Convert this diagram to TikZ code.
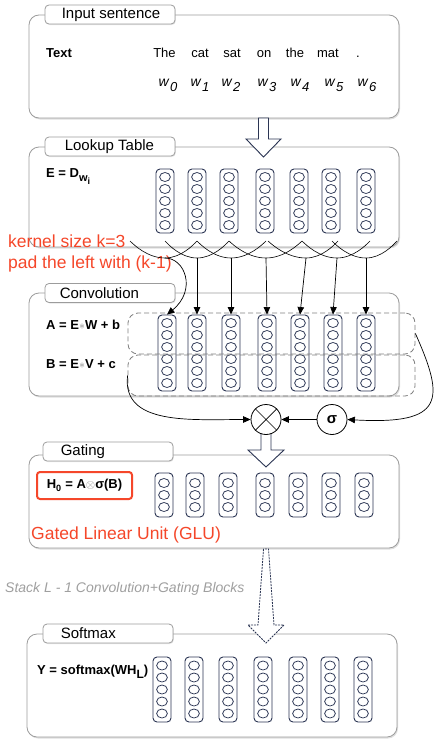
\documentclass[tikz,border=0pt]{standalone}
\usepackage{fontspec}
\setmainfont{Liberation Sans}
\usetikzlibrary{arrows.meta,shadows,calc}
\definecolor{navy}{HTML}{2B3553}
\definecolor{redtxt}{HTML}{F5472A}
\definecolor{panelgray}{HTML}{9C9C9C}
\newcommand\fsz[1]{\fontsize{#1pt}{#1pt}\selectfont}
\newcommand\vcol[5]{%
  \node[colbox, minimum height=#5pt] (#1) at (#2,#3) {};
  \foreach \k in {1,...,#4} \draw[cell] ($(#1.center)+(0,{(\k-(#4+1)/2)*12})$) ellipse (5.4pt and 4.5pt);
}
\begin{document}
\begin{tikzpicture}[x=1pt,y=-1pt,
  panel/.style={draw=panelgray, line width=0.8pt, rounded corners=10pt, fill=white,
    drop shadow={opacity=0.25, shadow xshift=1pt, shadow yshift=-1.5pt},
    minimum width=370pt, inner sep=0pt},
  tab/.style={draw=panelgray, line width=0.8pt, rounded corners=4pt, fill=white,
    minimum width=130pt, minimum height=19pt, inner sep=0pt,
    drop shadow={opacity=0.2, shadow xshift=0.8pt, shadow yshift=-1pt}},
  tablbl/.style={anchor=west, inner sep=0pt, font=\fsz{15}},
  colbox/.style={draw=navy, line width=0.9pt, rounded corners=4pt, minimum width=18pt, inner sep=0pt},
  cell/.style={draw=navy, line width=0.75pt},
  lbl/.style={inner sep=0pt, font=\fsz{13}},
  conn/.style={draw=black, line width=0.7pt, -{Triangle[length=7.5pt,width=6.5pt]}},
  arcline/.style={draw=black, line width=0.6pt},
  dbox/.style={draw=gray, dash pattern=on 5pt off 3pt, rounded corners=10pt, line width=0.8pt,
    minimum width=287pt, minimum height=41pt, inner sep=0pt},
  blockarrow/.style={draw=navy, fill=white, line width=0.9pt, line join=miter},
  redlbl/.style={anchor=west, inner sep=0pt, text=redtxt, font=\fsz{17.5}},
  opnode/.style={circle, draw=black, line width=0.8pt, fill=white, minimum size=30pt, inner sep=0pt}
]
\useasboundingbox (0,0) rectangle (442,744);

% panels
\node[panel, minimum height=103pt] (inp) at (214,66.5) {};
\node[panel, minimum height=100pt] (look) at (214,197) {};
\node[panel, minimum height=103pt] (conv) at (214,344.5) {};
\node[panel, minimum height=93pt] (gate) at (214,501.5) {};
\node[panel, minimum height=103pt] (soft) at (212,685.5) {};

% tabs
\node[tab] (inpT) at (110,14.5) {};
\node[tablbl] (inpL) at ([xshift=17pt]inpT.west) {Input sentence};
\node[tab] (lookT) at (110,146.5) {};
\node[tablbl] (lookL) at ([xshift=20pt]lookT.west) {Lookup Table};
\node[tab] (convT) at (110,293) {};
\node[tablbl] (convL) at ([xshift=15pt]convT.west) {Convolution};
\node[tab] (gateT) at (108,451.5) {};
\node[tablbl] (gateL) at ([xshift=18pt]gateT.west) {Gating};
\node[tab] (softT) at (108,633.5) {};
\node[tablbl] (softL) at ([xshift=18pt]softT.west) {Softmax};

% input sentence
\node[lbl, anchor=base west] (textlbl) at (46,57) {\bfseries Text};
\foreach \w/\x [count=\i] in {The/164.5,cat/200,sat/232,on/264,the/295,mat/328,./358}
  \node[lbl, anchor=base] (word\i) at (\x,57) {\w};
\foreach \x [count=\i from 0] in {168,200,231,267,300,334,367}
  \node[lbl, font=\fsz{14}\itshape] (w\i) at (\x,85) {w\kern1.5pt\raisebox{-5pt}{\fsz{13}\i}};

% block arrow input -> lookup
\draw[blockarrow] (258.5,118) -- (258.5,139) -- (246,139) -- (263.5,157) -- (281,139) -- (268.5,139) -- (268.5,118) -- cycle;

% lookup
\node[lbl, anchor=west] (Elbl) at (46,177) {\bfseries E = D\raisebox{-4pt}{\fsz{11}w\raisebox{-3pt}{\fsz{9}i}}};
\foreach \x [count=\i] in {165,197,229,265,299,331,366}
  {\vcol{L\i}{\x}{201}{5}{64}}

% red annotation
\node[redlbl] (ann1) at (8,241) {kernel size k=3};
\node[redlbl] (ann2) at (8,264) {pad the left with (k-1)};

% convolution
\node[lbl, anchor=west] (Albl) at (46,325) {\bfseries A = E{\color{gray}\fsz{12}$\ast$}W + b};
\node[lbl, anchor=west] (Blbl) at (46,364) {\bfseries B = E{\color{gray}\fsz{12}$\ast$}V + c};
\foreach \x [count=\i] in {167,197,231,267,300,333,366}
  {\vcol{C\i}{\x}{353}{6}{76}}
\node[dbox] (Abox) at (271.5,333.5) {};
\node[dbox] (Bbox) at (271.5,375.5) {};

% U arcs (kernel windows)
\coordinate (t0) at (130,241); \coordinate (b1) at (165,258); \coordinate (e1) at (197,241);
\coordinate (t1) at (165,241); \coordinate (b2) at (197,258); \coordinate (e2) at (229,241);
\coordinate (t2) at (197,241); \coordinate (b3) at (231,258); \coordinate (e3) at (266,241);
\coordinate (t3) at (229,241); \coordinate (b4) at (266,258); \coordinate (e4) at (302,241);
\coordinate (t4) at (268,241); \coordinate (b5) at (306,258); \coordinate (e5) at (338,241);
\coordinate (t5) at (302,241); \coordinate (b6) at (337,258); \coordinate (e6) at (370,241);
\coordinate (t6) at (332,241); \coordinate (b7) at (366,258); \coordinate (e7) at (397,241);
\foreach \i [evaluate=\i as \j using int(\i-1)] in {1,...,7}
  \draw[arcline] (t\j) parabola bend (b\i) (e\i);
\foreach \i in {2,...,7}
  \draw[conn] (b\i) -- (C\i.north);
\draw[conn] (b1) .. controls (185,258) and (197,290) .. (C1.north);

% gating operation
\draw[blockarrow] (261,430) -- (261,450) -- (248,450) -- (266,467) -- (284,450) -- (271,450) -- (271,430) -- cycle;
\node[opnode] (otimes) at (266,419.5) {};
\draw[line width=0.7pt] (otimes.north west) -- (otimes.south east) (otimes.north east) -- (otimes.south west);
\node[opnode, font=\fsz{15}\bfseries] (sig) at (332,419.5) {σ};
\draw[conn] (sig) -- (otimes);
\draw[conn] (Bbox.west) .. controls +(-6,50) and +(-60,0) .. (otimes.west);
\draw[conn] (Abox.east) .. controls (445,400) and (445,425) .. (sig.east);

% gating
\node[draw=redtxt, line width=2pt, rounded corners=3pt, minimum width=95pt, minimum height=27pt, inner sep=0pt, font=\fsz{13}\bfseries] (hbox) at (84.5,485.5) {H\textsubscript{0} = A{\color{gray}\fsz{12}$\otimes$}σ(B)};
\foreach \x [count=\i] in {164,195,228,265,298,331,364}
  {\vcol{G\i}{\x}{495}{3}{44}}
\node[redlbl] (glu) at (31,535) {Gated Linear Unit (GLU)};

% stack arrow
\draw[blockarrow, dash pattern=on 2pt off 1pt, line width=0.8pt] (263.5,549) -- (258,625) -- (248,625) -- (266,643) -- (284,625) -- (274,625) -- (268.5,549) -- cycle;
\node[anchor=west, inner sep=0pt, text=gray!75, font=\fsz{14}\itshape] (stack) at (5,589) {Stack L - 1 Convolution+Gating Blocks};

% softmax
\node[lbl, anchor=west] (Ylbl) at (37,672) {\bfseries Y = softmax(WH\raisebox{-4pt}{\fsz{12}L})};
\foreach \x [count=\i] in {162,194,228,263,298,330,363}
  {\vcol{S\i}{\x}{689.5}{5}{65}}
\end{tikzpicture}
\end{document}
